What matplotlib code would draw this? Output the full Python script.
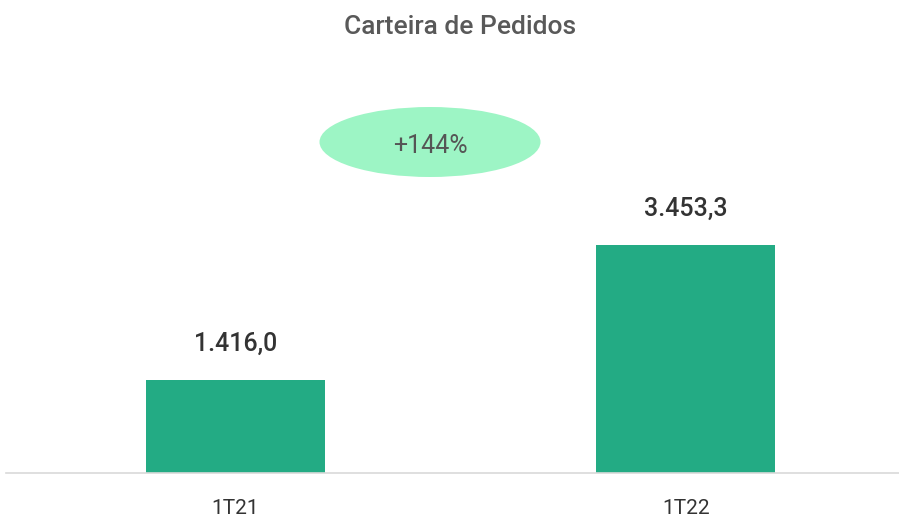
import matplotlib
matplotlib.use('Agg')
import matplotlib.pyplot as plt
from matplotlib.patches import Ellipse

plt.rcParams['font.family'] = ['Roboto', 'DejaVu Sans']

# Data
categories = ['1T21', '1T22']
values = [1416.0, 3453.3]
value_labels = ['1.416,0', '3.453,3']
title = 'Carteira de Pedidos'

growth = (values[1] / values[0] - 1) * 100

fig = plt.figure(figsize=(8.99, 5.2), dpi=100)
ax = fig.add_axes([6 / 899, 47 / 520, 893 / 899, 413 / 520])

x = list(range(len(categories)))
ax.bar(x, values, width=0.398, color='#23AB84')

for xi, v, lab in zip(x, values, value_labels):
    ax.annotate(lab, (xi, v), xytext=(0, 26), textcoords='offset points',
                ha='center', va='center', fontsize=18, fontweight='medium',
                color='#333333')

ax.set_xlim(-0.51, 1.474)
ax.set_ylim(0, 6257)
ax.set_xticks(x)
ax.set_xticklabels(categories, fontsize=15, color='#333333')
ax.tick_params(axis='x', length=0, pad=19)
ax.set_yticks([])
for s in ['top', 'left', 'right']:
    ax.spines[s].set_visible(False)
ax.spines['bottom'].set_color('#d9d9d9')
ax.spines['bottom'].set_linewidth(1.2)

# growth bubble
ell = Ellipse((430 / 899, 1 - 142 / 520), 221 / 899, 70 / 520,
              transform=fig.transFigure, facecolor='#9DF5C5', edgecolor='none')
fig.patches.append(ell)
fig.text(430 / 899, 1 - 146 / 520, f'+{growth:.0f}%', ha='center', va='center',
         fontsize=18, color='#555555')

fig.text(460 / 899, 1 - 27 / 520, title, ha='center', va='center',
         fontsize=19, fontweight='medium', color='#595959')

fig.savefig('out.png', dpi=100)
